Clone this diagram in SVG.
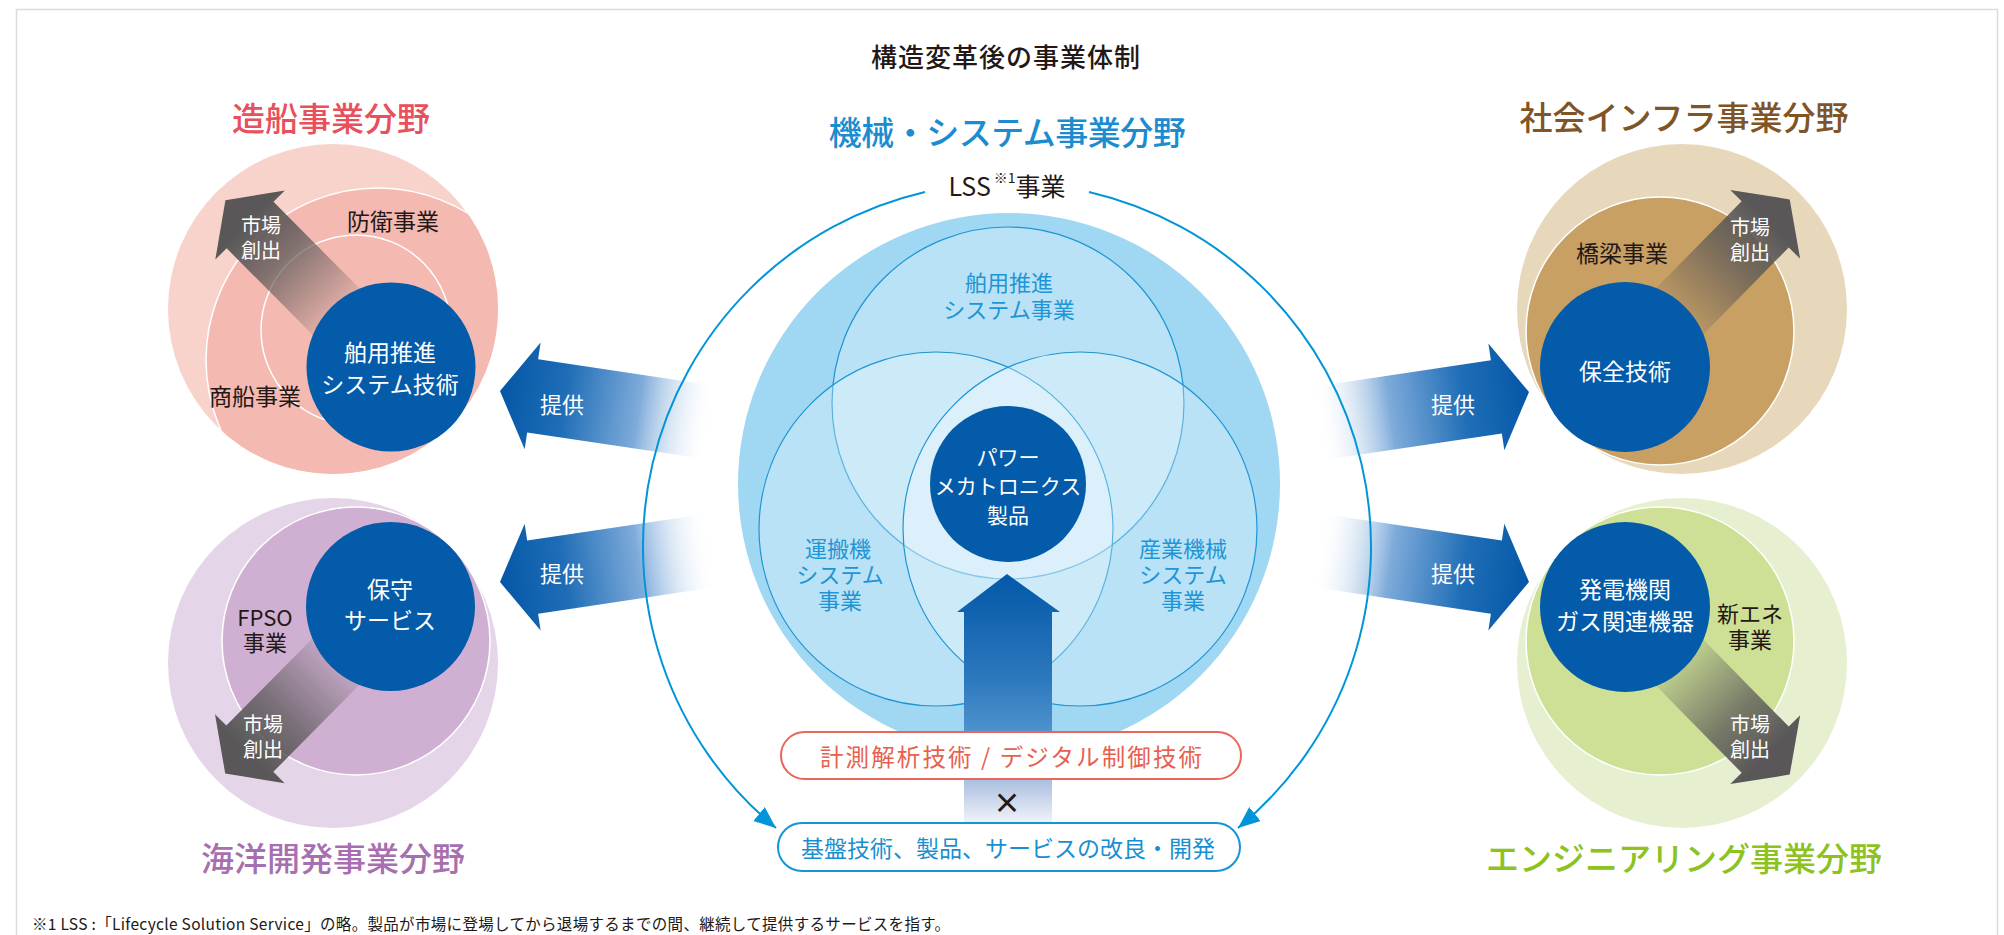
<svg xmlns="http://www.w3.org/2000/svg" width="2004" height="935" viewBox="0 0 2004 935">
<defs>
<style>
text{font-family:"Noto Sans CJK JP","Noto Sans",sans-serif;text-anchor:middle;dominant-baseline:central}
.w{fill:#fff}
.d{fill:#231815}
.node{fill:#035ba9}
.ring{stroke:#fff;stroke-width:1.5}
.lbl{font-size:23px}
.sm{font-size:22px}
.mk{font-size:20px;fill:#fff}
.title{font-size:33px;font-weight:500}
.venn{fill:#fff;fill-opacity:0.28;stroke:#1d95d3;stroke-width:1.2}
.vl{font-size:22px;fill:#1f95d5}
.lss{fill:none;stroke:#0095d9;stroke-width:2}
</style>
<linearGradient id="gray" gradientUnits="userSpaceOnUse" x1="80" y1="0" x2="205" y2="0">
<stop offset="0" stop-color="#595757" stop-opacity="0.15"/>
<stop offset="0.6" stop-color="#595757" stop-opacity="0.75"/>
<stop offset="1" stop-color="#595757" stop-opacity="1"/>
</linearGradient>
<linearGradient id="blueH" gradientUnits="userSpaceOnUse" x1="0" y1="0" x2="215" y2="0">
<stop offset="0" stop-color="#0457a7"/>
<stop offset="0.3" stop-color="#1f6db6"/>
<stop offset="0.65" stop-color="#7eabda"/>
<stop offset="1" stop-color="#ffffff" stop-opacity="0"/>
</linearGradient>
<linearGradient id="blueV" gradientUnits="userSpaceOnUse" x1="0" y1="574" x2="0" y2="824">
<stop offset="0" stop-color="#0358a8"/>
<stop offset="0.41" stop-color="#2b77bc"/>
<stop offset="0.61" stop-color="#4a8fcb"/>
<stop offset="0.85" stop-color="#b5c7e4"/>
<stop offset="1" stop-color="#f2f5fb"/>
</linearGradient>
<marker id="ah" viewBox="0 0 22 18" refX="22" refY="9" markerWidth="22" markerHeight="18" markerUnits="userSpaceOnUse" orient="auto">
<path d="M0,0 L22,9 L0,18 Z" fill="#0095d9"/>
</marker>
<clipPath id="cTL"><circle cx="333" cy="309" r="165"/></clipPath>
<polygon id="garrow" points="0,-33 200,-33 200,-49 235,0 200,49 200,33 0,33"/>
<polygon id="barrow" points="0,0 33,-54 33,-37 215,-37 215,37 33,37 33,54"/>
</defs>

<rect x="16.5" y="9.5" width="1981" height="1000" fill="#fff" stroke="#dcdcdc" stroke-width="1.5"/>

<text x="1006" y="55" font-size="26" font-weight="500" letter-spacing="1" class="d">構造変革後の事業体制</text>

<g id="connectors">
<use href="#barrow" fill="url(#blueH)" transform="translate(500,391) rotate(8.5)"/>
<use href="#barrow" fill="url(#blueH)" transform="translate(500,582) rotate(-8.5)"/>
<use href="#barrow" fill="url(#blueH)" transform="translate(1529,392) rotate(171.5)"/>
<use href="#barrow" fill="url(#blueH)" transform="translate(1529,582) rotate(188.5)"/>
<text x="562" y="403" font-size="22" class="w">提供</text>
<text x="562" y="572" font-size="22" class="w">提供</text>
<text x="1453" y="403" font-size="22" class="w">提供</text>
<text x="1453" y="572" font-size="22" class="w">提供</text>
<path class="lss" d="M925,192 A364,364 0 0 0 776,828" marker-end="url(#ah)"/>
<path class="lss" d="M1089,192 A364,364 0 0 1 1238,828" marker-end="url(#ah)"/>
</g>

<g id="shipbuilding">
<circle cx="333" cy="309" r="165" fill="#f8d3cb"/>
<g clip-path="url(#cTL)">
<circle cx="378" cy="360" r="172" fill="#f4b9b1" class="ring"/>
<circle cx="356" cy="330" r="95" fill="none" class="ring"/>
</g>
<use href="#garrow" fill="url(#gray)" transform="translate(391,367) rotate(-134.8)"/>
<circle cx="391" cy="367" r="84.5" class="node"/>
<text class="lbl w"><tspan x="390" y="351">舶用推進</tspan><tspan x="390" y="383">システム技術</tspan></text>
<text x="393" y="220" class="lbl d">防衛事業</text>
<text x="255" y="395" class="lbl d">商船事業</text>
<text class="mk"><tspan x="261" y="224">市場</tspan><tspan x="261" y="249">創出</tspan></text>
<text x="331" y="117" class="title" fill="#e8505b">造船事業分野</text>
</g>

<g id="offshore">
<circle cx="333" cy="663" r="165" fill="#e4d5e8"/>
<circle cx="356" cy="641" r="134" fill="#d0b0d2" class="ring"/>
<use href="#garrow" fill="url(#gray)" transform="translate(390.5,606.5) rotate(134.7)"/>
<circle cx="390.5" cy="606.5" r="84.5" class="node"/>
<text class="lbl w"><tspan x="390" y="588">保守</tspan><tspan x="390" y="619">サービス</tspan></text>
<text class="sm d"><tspan x="265" y="616">FPSO</tspan><tspan x="265" y="641">事業</tspan></text>
<text class="mk"><tspan x="263" y="723">市場</tspan><tspan x="263" y="748">創出</tspan></text>
<text x="333" y="857" class="title" fill="#a86fb0">海洋開発事業分野</text>
</g>

<g id="infrastructure">
<circle cx="1682" cy="309" r="165" fill="#e8d8bb"/>
<circle cx="1660" cy="331" r="134" fill="#c8a064" class="ring"/>
<use href="#garrow" fill="url(#gray)" transform="translate(1625,367) rotate(-45.5)"/>
<circle cx="1625" cy="367" r="85" class="node"/>
<text x="1625" y="370" class="lbl w">保全技術</text>
<text x="1622" y="252" class="lbl d">橋梁事業</text>
<text class="mk"><tspan x="1750" y="226">市場</tspan><tspan x="1750" y="251">創出</tspan></text>
<text x="1684" y="116" class="title" fill="#7f5426">社会インフラ事業分野</text>
</g>

<g id="engineering">
<circle cx="1682" cy="663" r="165" fill="#e6f0d0"/>
<circle cx="1660" cy="641" r="134" fill="#cde096" class="ring"/>
<use href="#garrow" fill="url(#gray)" transform="translate(1625,607) rotate(45.5)"/>
<circle cx="1625" cy="607" r="85" class="node"/>
<text class="lbl w"><tspan x="1625" y="588">発電機関</tspan><tspan x="1625" y="620">ガス関連機器</tspan></text>
<text class="sm d"><tspan x="1750" y="612">新エネ</tspan><tspan x="1750" y="638">事業</tspan></text>
<text class="mk"><tspan x="1750" y="723">市場</tspan><tspan x="1750" y="748">創出</tspan></text>
<text x="1684" y="857" class="title" fill="#8dc21f">エンジニアリング事業分野</text>
</g>

<g id="machinery">
<text x="1007" y="131" class="title" fill="#1b8ccf" letter-spacing="-0.5">機械・システム事業分野</text>
<text x="1007" y="185" font-size="25" class="d">LSS<tspan font-size="14" dx="3" dy="-8">※1</tspan><tspan dy="8">事業</tspan></text>
<circle cx="1009" cy="484" r="271" fill="#a0d7f3"/>
<circle cx="1008" cy="403" r="176" class="venn"/>
<circle cx="936" cy="529" r="177" class="venn"/>
<circle cx="1080" cy="529" r="177" class="venn"/>
<text class="vl"><tspan x="1009" y="281">舶用推進</tspan><tspan x="1009" y="308">システム事業</tspan></text>
<text class="vl"><tspan x="838" y="547">運搬機</tspan><tspan x="840" y="573">システム</tspan><tspan x="840" y="599">事業</tspan></text>
<text class="vl"><tspan x="1183" y="547">産業機械</tspan><tspan x="1183" y="573">システム</tspan><tspan x="1183" y="599">事業</tspan></text>
</g>

<g id="upArrow">
<polygon points="1007,574 1060,612 1052,612 1052,824 964,824 964,612 957,612" fill="url(#blueV)"/>
</g>

<g id="power">
<circle cx="1008" cy="484" r="78" class="node"/>
<text font-size="21" class="w"><tspan x="1008" y="456">パワー</tspan><tspan x="1008" y="485">メカトロニクス</tspan><tspan x="1008" y="514">製品</tspan></text>
</g>

<g id="tech">
<rect x="781" y="732" width="460" height="47" rx="23.5" fill="#fff" stroke="#e8675a" stroke-width="2"/>
<text x="1011" y="756" font-size="23.5" fill="#e8604e" textLength="382">計測解析技術 / デジタル制御技術</text>
</g>
<text x="1007" y="802" font-size="28" font-weight="700" class="d">×</text>
<g id="improve">
<rect x="778" y="823" width="462" height="48" rx="24" fill="#fff" stroke="#1296d6" stroke-width="2"/>
<text x="1008" y="847" font-size="23" fill="#1a8fd0">基盤技術、製品、サービスの改良・開発</text>
</g>

<text x="32" y="923" font-size="15.5" class="d" style="text-anchor:start" textLength="918">※1 LSS :「Lifecycle Solution Service」の略。製品が市場に登場してから退場するまでの間、継続して提供するサービスを指す。</text>
</svg>
